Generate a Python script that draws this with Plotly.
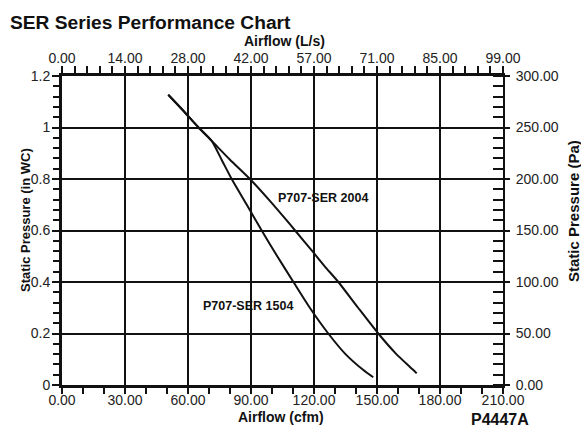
import plotly.graph_objects as go

# ---------------- data ----------------
cfm_ticks = [0, 30, 60, 90, 120, 150, 180, 210]
cfm_labels = ["0.00", "30.00", "60.00", "90.00", "120.00", "150.00", "180.00", "210.00"]
ls_labels = ["0.00", "14.00", "28.00", "42.00", "57.00", "71.00", "85.00", "99.00"]

inwc_ticks = [0, 0.2, 0.4, 0.6, 0.8, 1.0, 1.2]
inwc_labels = ["0", "0.2", "0.4", "0.6", "0.8", "1", "1.2"]
pa_labels = ["0.00", "50.00", "100.00", "150.00", "200.00", "250.00", "300.00"]

ser2004_cfm = [50.6, 58.0, 65.0, 71.3, 80.0, 89.5, 99.0, 107.0, 111.0, 118.9, 125.0, 131.6, 141.0, 150.6, 159.0, 167.3, 168.9]
ser2004_inwc = [1.127, 1.063, 1.000, 0.948, 0.875, 0.800, 0.715, 0.639, 0.600, 0.523, 0.462, 0.400, 0.300, 0.200, 0.122, 0.058, 0.045]

ser1504_cfm = [50.6, 58.0, 65.0, 71.3, 76.0, 80.8, 88.0, 95.1, 102.5, 110.2, 118.0, 126.8, 135.0, 143.5, 148.2]
ser1504_inwc = [1.127, 1.063, 1.000, 0.948, 0.875, 0.800, 0.700, 0.600, 0.500, 0.400, 0.300, 0.200, 0.120, 0.058, 0.030]

W, H = 581, 428
ML, MR, MT, MB = 62, 78, 76, 43

FONT = "Liberation Sans, Arial, Helvetica, sans-serif"
TICKFONT = dict(family=FONT, size=14, color="#222")
INK = "#111"

fig = go.Figure()
fig.add_trace(go.Scatter(x=ser2004_cfm, y=ser2004_inwc, mode="lines",
                         line=dict(color=INK, width=2, shape="spline", smoothing=0.6),
                         showlegend=False, hoverinfo="skip"))
fig.add_trace(go.Scatter(x=ser1504_cfm, y=ser1504_inwc, mode="lines",
                         line=dict(color=INK, width=2, shape="spline", smoothing=0.6),
                         showlegend=False, hoverinfo="skip"))
# invisible trace so the secondary (top / right) axes are drawn
fig.add_trace(go.Scatter(x=ser2004_cfm, y=ser2004_inwc, xaxis="x2", yaxis="y2", mode="lines",
                         line=dict(width=0, color="rgba(0,0,0,0)"), showlegend=False, hoverinfo="skip"))

fig.update_layout(
    width=W, height=H,
    margin=dict(l=ML, r=MR, t=MT, b=MB),
    paper_bgcolor="white", plot_bgcolor="white",
    title=dict(text="<b>SER Series Performance Chart</b>", x=10 / W, xref="container", xanchor="left",
               y=1 - 22 / H, yref="container", yanchor="middle",
               font=dict(family=FONT, size=19.2, color=INK)),
    xaxis=dict(range=[0, 210], tickmode="array", tickvals=cfm_ticks, ticktext=cfm_labels,
               showgrid=True, gridcolor=INK, gridwidth=2, zeroline=False,
               showline=True, linecolor=INK, linewidth=3,
               ticks="outside", ticklen=6, tickwidth=2, tickcolor=INK,
               tickfont=TICKFONT, ticklabelstandoff=-6,
               minor=dict(tickmode="linear", tick0=0, dtick=10, ticks="outside", ticklen=6,
                          tickwidth=2, tickcolor=INK, showgrid=False)),
    xaxis2=dict(range=[0, 210], overlaying="x", side="top", tickmode="array",
                tickvals=cfm_ticks, ticktext=ls_labels, showgrid=False, zeroline=False,
                showline=True, linecolor=INK, linewidth=3,
                ticks="outside", ticklen=7, tickwidth=2, tickcolor=INK,
                tickfont=TICKFONT, ticklabelstandoff=-3,
                minor=dict(tickmode="linear", tick0=0, dtick=6, ticks="outside", ticklen=7,
                           tickwidth=2, tickcolor=INK, showgrid=False)),
    yaxis=dict(range=[0, 1.2], tickmode="array", tickvals=inwc_ticks, ticktext=inwc_labels,
               showgrid=True, gridcolor=INK, gridwidth=2, zeroline=False,
               showline=True, linecolor=INK, linewidth=3,
               ticks="outside", ticklen=7, tickwidth=2, tickcolor=INK,
               tickfont=TICKFONT, ticklabelstandoff=-1,
               minor=dict(tickmode="linear", tick0=0, dtick=0.04, ticks="outside", ticklen=6,
                          tickwidth=2, tickcolor=INK, showgrid=False)),
    yaxis2=dict(range=[0, 1.2], overlaying="y", side="right", tickmode="array",
                tickvals=inwc_ticks, ticktext=pa_labels, showgrid=False, zeroline=False,
                showline=True, linecolor=INK, linewidth=2,
                ticks="outside", ticklen=5, tickwidth=2, tickcolor=INK,
                tickfont=TICKFONT, ticklabelstandoff=3,
                minor=dict(tickmode="linear", tick0=0, dtick=0.04, ticks="inside", ticklen=10,
                           tickwidth=2, tickcolor=INK, showgrid=False)),
)


def px_to_paper_x(px):
    return (px - ML) / (W - ML - MR)


def px_to_paper_y(py):
    return 1 - (py - MT) / (H - MT - MB)


annots = [
    dict(text="<b>Airflow (L/s)</b>", x=px_to_paper_x(284), y=px_to_paper_y(41),
         font=dict(family=FONT, size=14, color=INK)),
    dict(text="<b>Airflow (cfm)</b>", x=px_to_paper_x(281), y=px_to_paper_y(417),
         font=dict(family=FONT, size=14, color=INK)),
    dict(text="<b>Static Pressure (in WC)</b>", x=px_to_paper_x(25), y=px_to_paper_y(220),
         textangle=-90, font=dict(family=FONT, size=13, color=INK)),
    dict(text="<b>Static Pressure (Pa)</b>", x=px_to_paper_x(573), y=px_to_paper_y(211),
         textangle=-90, font=dict(family=FONT, size=15, color=INK)),
    dict(text="<b>P4447A</b>", x=px_to_paper_x(500), y=px_to_paper_y(419),
         font=dict(family=FONT, size=16, color=INK)),
]
for a in annots:
    fig.add_annotation(xref="paper", yref="paper", showarrow=False,
                       xanchor="center", yanchor="middle", **a)

fig.add_annotation(text="<b>P707-SER 2004</b>", x=124.3, y=0.728, xref="x", yref="y",
                   showarrow=False, xanchor="center", yanchor="middle",
                   font=dict(family=FONT, size=12.5, color=INK))
fig.add_annotation(text="<b>P707-SER 1504</b>", x=88.6, y=0.306, xref="x", yref="y",
                   showarrow=False, xanchor="center", yanchor="middle",
                   font=dict(family=FONT, size=12.5, color=INK))

# remove the default 8px page margin so the figure fills the window exactly
fig.write_html("out.html", config={"displayModeBar": False},
               post_script="document.body.style.margin='0';document.body.style.overflow='hidden';")
